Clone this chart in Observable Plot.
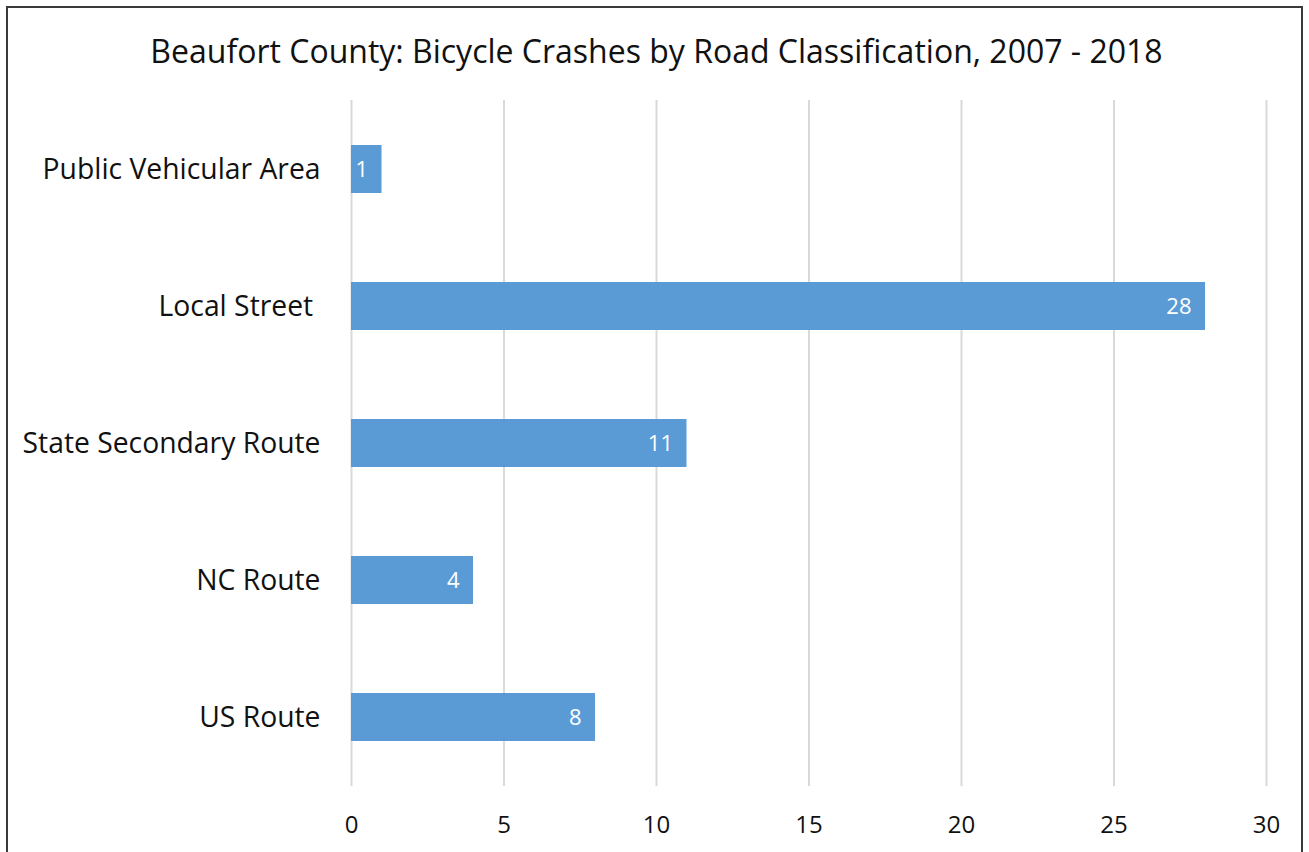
<!DOCTYPE html>
<html>
<head>
<meta charset="utf-8">
<script src="https://cdn.jsdelivr.net/npm/d3@7"></script>
<script src="https://cdn.jsdelivr.net/npm/@observablehq/plot@0.6"></script>
<style>
  html, body { margin: 0; padding: 0; background: #fff; }
  body { width: 1309px; height: 852px; position: relative; overflow: hidden; font-family: "Open Sans", sans-serif; }
  #frame { position: absolute; left: 6px; top: 6px; width: 1297px; height: 860px; border: 2px solid #3a3a3a; box-sizing: border-box; }
  #title { position: absolute; left: 2px; top: 29px; width: 1309px; text-align: center; font-size: 32px; line-height: 44px; color: #111; }
  #chart { position: absolute; left: 0; top: 90px; }
</style>
</head>
<body>
<div id="frame"></div>
<div id="title">Beaufort County: Bicycle Crashes by Road Classification, 2007 - 2018</div>
<div id="chart"></div>
<script>
const categories = ["Public Vehicular Area", "Local Street\u00a0", "State Secondary Route", "NC Route", "US Route"];
const crashes = [1, 28, 11, 4, 8];
const xTicks = [0, 5, 10, 15, 20, 25, 30];

const data = categories.map((c, i) => ({category: c, value: crashes[i]}));

const chart = Plot.plot({
  width: 1309,
  height: 762,
  marginLeft: 351,
  marginRight: 43,
  marginTop: 10,
  marginBottom: 66,
  style: { fontFamily: "'Open Sans', sans-serif", background: "transparent", overflow: "visible" },
  x: { domain: [0, 30], ticks: xTicks },
  y: { domain: categories, paddingInner: 0.65, paddingOuter: 0.325 },
  marks: [
    Plot.gridX(xTicks, { stroke: "#d9d9d9", strokeOpacity: 1, strokeWidth: 2 }),
    Plot.axisX(xTicks, { tickSize: 0, tickPadding: 29, fontSize: 24, fill: "#111", label: null }),
    Plot.axisY({ tickSize: 0, tickPadding: 31, fontSize: 28.3, fill: "#111", label: null }),
    Plot.barX(data, { x: "value", y: "category", fill: "#5b9bd5" }),
    Plot.text(data, { x: "value", y: "category", text: d => String(d.value), fill: "white", textAnchor: "end", dx: -14, fontSize: 22 })
  ]
});
document.getElementById("chart").appendChild(chart);
</script>
</body>
</html>
